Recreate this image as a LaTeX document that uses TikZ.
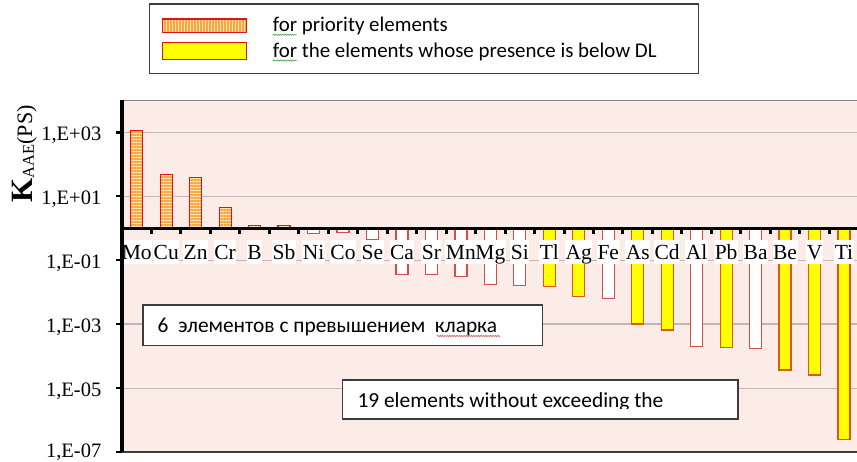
\documentclass[tikz,border=0pt]{standalone}
\usepackage{fontspec}
\setmainfont{Liberation Serif}
\newfontfamily\calibfont{Carlito}
\usetikzlibrary{patterns.meta,decorations.pathmorphing}
\definecolor{plotbg}{RGB}{251,236,231}
\definecolor{gridc}{RGB}{190,182,180}
\definecolor{framec}{RGB}{60,60,60}
\definecolor{topc}{RGB}{130,130,130}
\definecolor{priLight}{RGB}{255,228,180}
\definecolor{priDark}{RGB}{250,165,60}
\definecolor{priRed}{RGB}{220,20,20}
\definecolor{yelFill}{RGB}{255,255,0}
\definecolor{yelEdge}{RGB}{225,85,25}
\definecolor{whEdge}{RGB}{215,75,75}
\definecolor{spellG}{RGB}{90,170,90}
\definecolor{spellR}{RGB}{230,90,90}
\tikzset{
  barpri/.style={preaction={fill=priLight}, pattern={Lines[distance=3pt,line width=1.4pt,angle=0]}, pattern color=priDark, draw=priRed, line width=1.2pt},
  legpri/.style={preaction={fill=priLight}, pattern={Lines[distance=3pt,line width=1.4pt,angle=90]}, pattern color=priDark, draw=priRed, line width=1.2pt},
  barye/.style={fill=yelFill, draw=yelEdge, line width=1.2pt},
  legye/.style={fill=yelFill, draw=priRed, line width=1.2pt},
  barwh/.style={fill=white, draw=whEdge, line width=1.2pt},
  catlab/.style={font=\fontsize{21.5}{24}\selectfont, fill=white, inner xsep=0.5pt, inner ysep=0pt, text height=19pt, text depth=4.5pt, anchor=base},
  ticklab/.style={font=\fontsize{20.5}{22}\selectfont, anchor=base east, inner sep=0pt},
  legtext/.style={font=\calibfont\fontsize{20.9}{22}\selectfont, anchor=base west, inner sep=0pt},
  boxtext/.style={font=\calibfont\fontsize{21.4}{23}\selectfont, anchor=base west, inner sep=0pt},
  tbox/.style={draw=framec, line width=1.4pt, fill=white, inner sep=0pt, anchor=north west},
  spell/.style={line width=0.7pt, decorate, decoration={snake, amplitude=0.6pt, segment length=2.4pt}},
  gridln/.style={draw=gridc, line width=1.2pt},
  axisln/.style={draw=black, line width=3pt}
}
\begin{document}
\begin{tikzpicture}[x=1pt,y=-1pt]
\useasboundingbox (0,0) rectangle (857,462);
\fill[white] (0,0) rectangle (857,462);
% plot area
\fill[plotbg] (122,100.3) rectangle (857,452);
\draw[topc, line width=1pt] (122,100.3) -- (857,100.3);
\foreach \y in {132.3,196.2,260.2,324.1,388.1}
  \draw[gridln] (122,\y) -- (857,\y);
\draw[framec, line width=1.3pt] (122,452) -- (857,452);
% bars: priority
\foreach \i/\v in {0/130.7,1/174.3,2/177.3,3/207.3,4/225.3,5/225.6}{
  \pgfmathsetmacro\c{122+29.47*(\i+0.5)}
  \path[barpri] (\c-6,\v) rectangle (\c+6,228.7);
}
% bars: white
\foreach \i/\v in {6/233.3,7/232.7,8/239.3,9/274.3,10/274.3,11/276.3,12/284.3,13/285.7,16/298.7,19/346.3,21/348.7}{
  \pgfmathsetmacro\c{122+29.47*(\i+0.5)}
  \path[barwh] (\c-6,228.7) rectangle (\c+6,\v);
}
% bars: yellow
\foreach \i/\v in {14/286.3,15/296.3,17/324,18/330,20/347.3,22/370,23/375,24/439.3}{
  \pgfmathsetmacro\c{122+29.47*(\i+0.5)}
  \path[barye] (\c-6,228.7) rectangle (\c+6,\v);
}
% category labels
\foreach \e [count=\k from 0] in {Mo,Cu,Zn,Cr,B,Sb,Ni,Co,Se,Ca,Sr,Mn,Mg,Si,Tl,Ag,Fe,As,Cd,Al,Pb,Ba,Be,V,Ti}{
  \pgfmathsetmacro\c{122+29.47*(\k+0.5)}
  \node[catlab] (cat\k) at (\c,259.5) {\e};
}
% axes
\draw[axisln] (120.5,228.7) -- (857,228.7);
\foreach \k in {1,...,24}
  \draw[axisln] ({122+29.47*\k},228.7) -- ({122+29.47*\k},234);
\draw[black, line width=3.5pt] (122,100.3) -- (122,452);
\foreach \y in {132.3,196.2,260.2,324.1,388.1,452}
  \draw[black, line width=2.5pt] (116,\y) -- (122,\y);
% tick labels
\node[ticklab] (t3)  at (101.5,140.6) {1,E+03};
\node[ticklab] (t1)  at (101.5,204.5) {1,E+01};
\node[ticklab] (tm1) at (101.5,268.5) {1,E-01};
\node[ticklab] (tm3) at (101.5,332.4) {1,E-03};
\node[ticklab] (tm5) at (101.5,396.4) {1,E-05};
\node[ticklab] (tm7) at (101.5,457.4) {1,E-07};
% y title
\node[rotate=90, anchor=base, inner sep=0pt] (ytitle) at (32,154)
  {{\fontsize{31}{31}\selectfont\bfseries K}{\fontsize{16.5}{18}\selectfont\raisebox{-1.8pt}{AAE}}{\fontsize{22}{24}\selectfont(PS)}};
% legend
\node[tbox, line width=1.3pt, minimum width=549pt, minimum height=69.2pt] (legend) at (149,3.5) {};
\path[legpri] (162.5,19) rectangle (246.7,32.7);
\path[legye] (162.5,42.7) rectangle (246.7,59.3);
\node[legtext] (leg1) at (272.7,32) {for priority elements};
\node[legtext] (leg2) at (272.7,57.5) {for the elements whose presence is below DL};
\draw[spellG, spell] (272.7,34.8) -- (296.5,34.8);
\draw[spellG, spell] (272.7,60.5) -- (296.5,60.5);
% text box 1
\node[tbox, minimum width=399.4pt, minimum height=40.7pt] (box1) at (142.3,304.3) {};
\node[boxtext] (box1txt) at (157.3,332.3) {6\ \ элементов с превышением\ \ кларка};
\draw[spellR, spell] (437,336) -- (500,336);
% text box 2
\node[tbox, minimum width=395.6pt, minimum height=39pt] (box2) at (341.7,379.3) {};
\begin{scope}
  \clip (341.7,379.3) rectangle (737.3,408.4);
  \node[boxtext] (box2txt) at (357.3,407.8) {19 elements without exceeding the};
\end{scope}
\end{tikzpicture}
\end{document}
